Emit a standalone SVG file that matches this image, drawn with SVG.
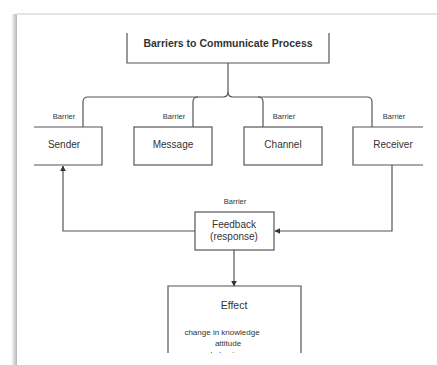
<svg xmlns="http://www.w3.org/2000/svg" width="437" height="365" viewBox="0 0 437 365">
<style>
.box{fill:#fff;stroke:#555;stroke-width:1.2}
.edge{fill:none;stroke:#555;stroke-width:1.2}
text{font-family:"Liberation Sans",Arial,sans-serif;fill:#333;text-anchor:middle}
.lbl{font-size:10px}
.bar{font-size:7.5px}
.small{font-size:8px}
</style>
<defs>
<marker id="arr" viewBox="0 0 10 10" refX="9" refY="5" markerWidth="6" markerHeight="6" orient="auto" markerUnits="userSpaceOnUse">
<path d="M0,0 L10,5 L0,10 z" fill="#333"/>
</marker>
<linearGradient id="sh" x1="0" x2="1" y1="0" y2="0">
<stop offset="0" stop-color="#fff"/>
<stop offset="1" stop-color="#b5b5b5"/>
</linearGradient>
<clipPath id="effclip"><rect x="160" y="280" width="150" height="73"/></clipPath>
</defs>
<rect width="437" height="365" fill="#fff"/>
<g id="page">
<rect x="11" y="14" width="6" height="351" fill="url(#sh)"/>
<line x1="16" y1="14" x2="437" y2="14" stroke="#e4e4e4" stroke-width="2"/>
</g>
<g id="connectors">
<path class="edge" d="M83,127 V102 Q83,97 88,97 H223 Q228,97 228,92 V63"/>
<path class="edge" d="M372,127 V102 Q372,97 367,97 H233 Q228,97 228,92"/>
<path class="edge" d="M193,127 V102 Q193,97 198,97"/>
<path class="edge" d="M263,127 V102 Q263,97 258,97"/>
<path class="edge" d="M195,231 H63 V166" marker-end="url(#arr)"/>
<path class="edge" d="M392,165 V231 H275" marker-end="url(#arr)"/>
<path class="edge" d="M234,250 V286" marker-end="url(#arr)"/>
</g>
<g id="title">
<path class="edge" d="M127,33 V63 H329 V33"/>
<text x="228" y="47" style="font-size:10.5px;font-weight:bold">Barriers to Communicate Process</text>
</g>
<g id="sender">
<path class="edge" d="M34,127 H102 V165 H34"/>
<text class="lbl" x="64" y="148">Sender</text>
<text class="bar" x="64" y="119">Barrier</text>
</g>
<g id="message">
<rect class="box" x="134" y="127" width="78" height="38"/>
<text class="lbl" x="173" y="148">Message</text>
<text class="bar" x="174" y="119">Barrier</text>
</g>
<g id="channel">
<rect class="box" x="244" y="127" width="78" height="38"/>
<text class="lbl" x="283" y="148">Channel</text>
<text class="bar" x="284" y="119">Barrier</text>
</g>
<g id="receiver">
<path class="edge" d="M423,127 H353 V165 H423"/>
<text class="lbl" x="393" y="148">Receiver</text>
<text class="bar" x="394" y="119">Barrier</text>
</g>
<g id="feedback">
<rect class="box" x="195" y="212" width="79" height="38"/>
<text class="lbl" x="234" y="228">Feedback</text>
<text class="lbl" x="234" y="240">(response)</text>
<text class="bar" x="235" y="204">Barrier</text>
</g>
<g id="effect">
<path class="edge" d="M168,353 V286 H301 V353"/>
<text x="234" y="309" style="font-size:10.5px">Effect</text>
<g clip-path="url(#effclip)">
<text class="small" x="222" y="335">change in knowledge</text>
<text class="small" x="228" y="346">attitude</text>
<text class="small" x="228" y="357">behaviour</text>
</g>
</g>
</svg>
